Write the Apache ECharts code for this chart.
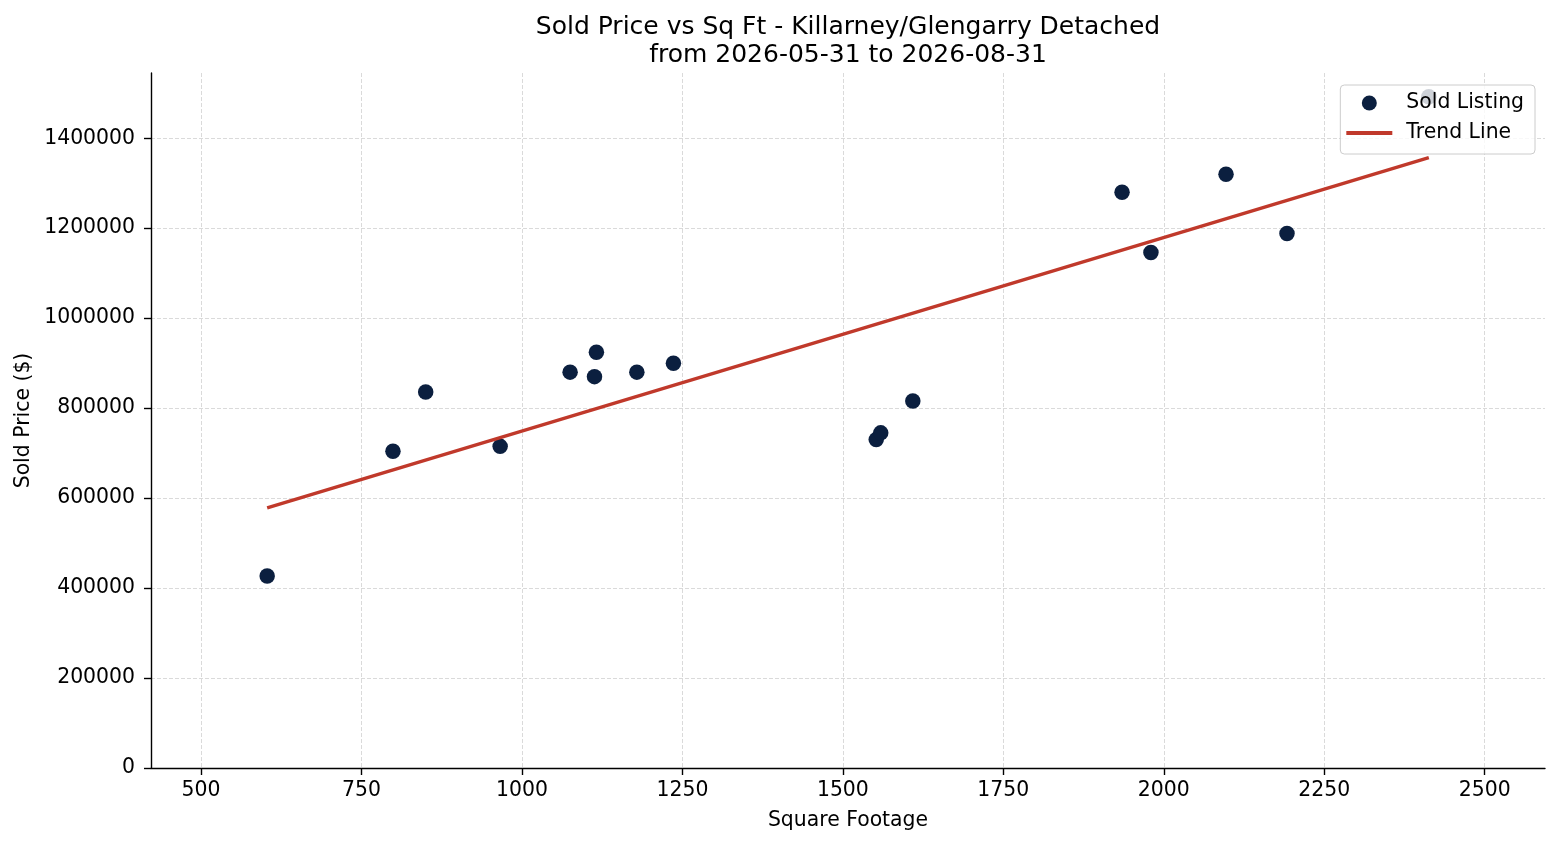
<!DOCTYPE html>
<html>
<head>
<meta charset="utf-8">
<script src="https://cdn.jsdelivr.net/npm/echarts@6/dist/echarts.min.js"></script>
<style>
html,body{margin:0;padding:0;background:#fff;}
#chart{width:1560px;height:845px;}
</style>
</head>
<body>
<div id="chart"></div>
<script>
// Sold listings: square footage and sold price
const sqft = [603, 799, 850, 966, 1075, 1113, 1116, 1179, 1236, 1552, 1559, 1609, 1935, 1980, 2097, 2192, 2413];
const price = [427000, 704000, 836000, 715000, 880000, 870000, 924000, 880000, 900000, 730000, 745000, 816000, 1280000, 1146000, 1320000, 1188000, 1492000];
// Trend line endpoints
const trendX = [603, 2413];
const trendY = [578000, 1357000];
// Tick labels
const xTicks = [500, 750, 1000, 1250, 1500, 1750, 2000, 2250, 2500];

const FONT = 'DejaVu Sans';
const chart = echarts.init(document.getElementById('chart'), null, {renderer: 'canvas'});
const points = sqft.map((x, i) => [x, price[i]]);
const trend = trendX.map((x, i) => [x, trendY[i]]);

chart.setOption({
  animation: false,
  backgroundColor: '#fff',
  textStyle: {fontFamily: FONT},
  title: {
    text: 'Sold Price vs Sq Ft - Killarney/Glengarry Detached\nfrom 2026-05-31 to 2026-08-31',
    left: 843, top: 9, textAlign: 'center',
    textStyle: {fontFamily: FONT, fontSize: 25, fontWeight: 'normal', color: '#000', lineHeight: 27.5}
  },
  legend: {
    orient: 'vertical', right: 25, top: 85,
    backgroundColor: 'rgba(255,255,255,0.8)', borderColor: '#cccccc', borderWidth: 1, borderRadius: 4,
    padding: [6, 11, 9, 6], itemGap: 6, itemWidth: 46, itemHeight: 15,
    textStyle: {fontFamily: FONT, fontSize: 20.4, color: '#000', lineHeight: 24, padding: [0, 0, 0, 9]},
    data: [
      {name: 'Sold Listing', icon: 'circle'},
      {name: 'Trend Line', icon: 'path://M0,0H46V4H0Z'}
    ]
  },
  grid: {left: 151, right: 15, top: 73, bottom: 77, containLabel: false},
  xAxis: {
    type: 'value', min: 422, max: 2594,
    name: 'Square Footage', nameLocation: 'middle', nameGap: 43,
    nameTextStyle: {fontFamily: FONT, fontSize: 20.4, color: '#000'},
    axisLine: {show: true, onZero: false, lineStyle: {color: '#000', width: 1.4}},
    axisTick: {show: true, length: 7, lineStyle: {color: '#000', width: 1.4}, customValues: xTicks},
    axisLabel: {fontFamily: FONT, fontSize: 20.4, color: '#000', margin: 13, customValues: xTicks,
      formatter: v => String(v)},
    splitLine: {show: true, lineStyle: {color: '#d6d6d6', width: 0.9, type: [4, 2]}}
  },
  yAxis: {
    type: 'value', min: 0, max: 1545000, interval: 200000,
    name: 'Sold Price ($)', nameLocation: 'middle', nameGap: 116, nameRotate: 90,
    nameTextStyle: {fontFamily: FONT, fontSize: 20.4, color: '#000'},
    axisLine: {show: true, lineStyle: {color: '#000', width: 1.4}},
    axisTick: {show: true, length: 7, lineStyle: {color: '#000', width: 1.4}},
    axisLabel: {fontFamily: FONT, fontSize: 20.4, color: '#000', margin: 16, showMaxLabel: false,
      formatter: v => String(v)},
    splitLine: {show: true, showMaxLine: false, lineStyle: {color: '#d6d6d6', width: 0.9, type: [4, 2]}}
  },
  series: [
    {
      name: 'Sold Listing', type: 'scatter', data: points,
      symbol: 'circle', symbolSize: 15.5, z: 2,
      itemStyle: {color: '#0b1f3f', opacity: 1}
    },
    {
      name: 'Trend Line', type: 'line', data: trend,
      showSymbol: false, symbol: 'none', z: 3,
      lineStyle: {color: '#c0392b', width: 3.4},
      itemStyle: {color: '#c0392b'}
    }
  ]
});
</script>
</body>
</html>
